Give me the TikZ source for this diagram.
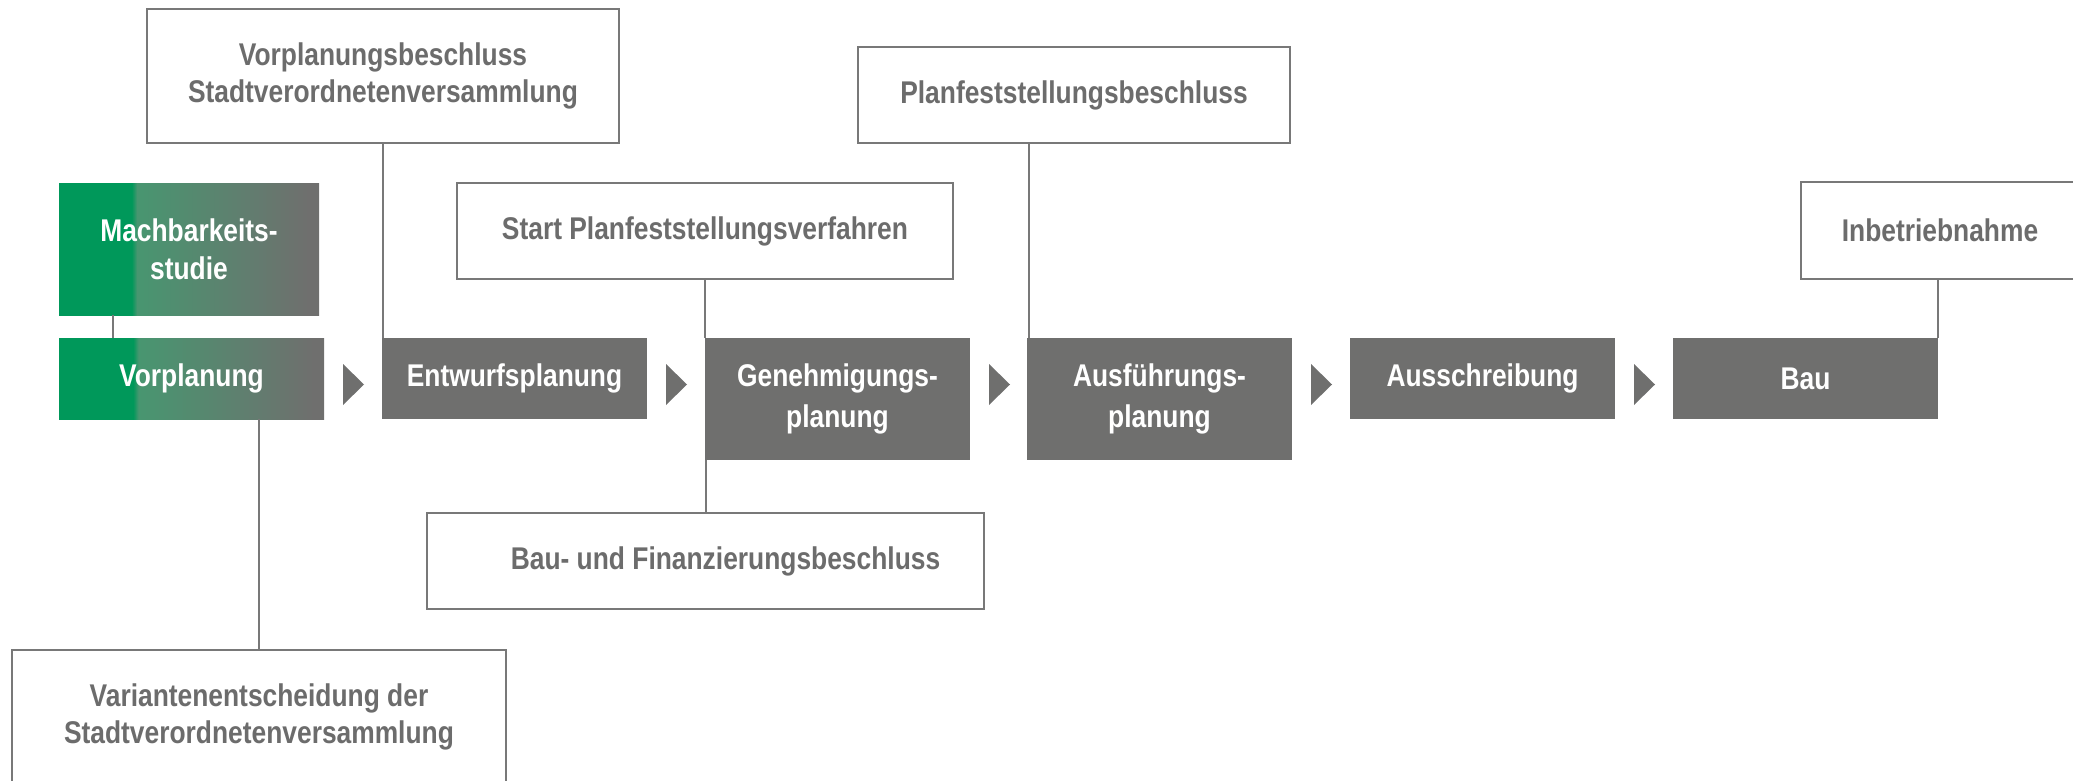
\documentclass[tikz,border=0pt]{standalone}
\usepackage{fontspec}
\setmainfont{Liberation Sans}[FakeStretch=0.84]
\usetikzlibrary{calc}
\definecolor{vgreen}{RGB}{0,152,90}
\definecolor{vgray}{RGB}{111,111,110}
\definecolor{lgray}{RGB}{120,120,120}
\definecolor{tgray}{RGB}{108,108,108}
\definecolor{vmix}{RGB}{72,150,112}
\pgfdeclarehorizontalshading{grgr}{100bp}{color(0bp)=(vgreen); color(39bp)=(vgreen); color(40bp)=(vmix); color(73bp)=(vgray); color(100bp)=(vgray)}
\tikzset{
  base/.style={rectangle, inner sep=0pt, outer sep=0pt, anchor=north west, align=center},
  fillbox/.style={base, fill=vgray, text=white, font=\fontsize{15.7pt}{20.5pt}\selectfont\bfseries},
  gradbox/.style={base, shading=grgr, text=white, font=\fontsize{15.7pt}{19pt}\selectfont\bfseries},
  linebox/.style={base, draw=lgray, line width=1.3pt, fill=white, text=tgray, font=\fontsize{15.7pt}{18.5pt}\selectfont\bfseries},
  conn/.style={draw=lgray, line width=1pt},
  steparrow/.style={fill=vgray}
}
\begin{document}
\begin{tikzpicture}[x=0.5pt,y=-0.5pt]
\useasboundingbox (0,0) rectangle (2073,781);
\clip (0,0) rectangle (2073,781);
% process row
\node[gradbox, minimum width=130pt, minimum height=65.5pt] (mb) at (59,184) {Machbarkeits-\\studie};
\node[gradbox, minimum width=132.5pt, minimum height=40.5pt] (vp) at (59,338) {Vorplanung};
\node[fillbox, minimum width=132.5pt, minimum height=40.5pt] (ep) at (382,338) {Entwurfsplanung};
\node[fillbox, minimum width=132.5pt, minimum height=61pt] (gp) at (705,338) {Genehmigungs-\\planung};
\node[fillbox, minimum width=132.5pt, minimum height=61pt] (ap) at (1027,338) {Ausführungs-\\planung};
\node[fillbox, minimum width=132.5pt, minimum height=40.5pt] (as) at (1350,338) {Ausschreibung};
\node[fillbox, minimum width=132.5pt, minimum height=40.5pt] (bau) at (1673,338) {Bau};
% step arrows
\foreach \x in {343,666,989,1311,1634}
  \fill[steparrow] (\x,364) -- (\x+21,384.5) -- (\x,405) -- cycle;
% milestone boxes
\node[linebox, minimum width=236pt, minimum height=67pt] (vpb) at (147,9) {Vorplanungsbeschluss\\Stadtverordnetenversammlung};
\node[linebox, minimum width=216pt, minimum height=48pt] (pfb) at (858,47) {Planfeststellungsbeschluss};
\node[linebox, minimum width=248pt, minimum height=48pt] (spv) at (457,183) {Start Planfeststellungsverfahren};
\node[linebox, minimum width=139pt, minimum height=48.5pt] (inb) at (1801,182) {Inbetriebnahme};
\node[linebox, minimum width=278.5pt, minimum height=48pt] (bfb) at (427,513) {\hspace*{20pt}Bau- und Finanzierungsbeschluss};
\node[linebox, minimum width=247pt, minimum height=67pt] (var) at (12,650) {Variantenentscheidung der\\Stadtverordnetenversammlung};
% connectors
\coordinate (c1) at (113,0);
\coordinate (c2) at (259,0);
\coordinate (c3) at (1029,0);
\draw[conn] (mb.south -| c1) -- (vp.north -| c1);
\draw[conn] (vp.south -| c2) -- (var.north -| c2);
\draw[conn] (vpb.south) -- (vpb.south |- ep.north);
\draw[conn] (spv.south) -- (spv.south |- gp.north);
\draw[conn] (bfb.north) -- (bfb.north |- gp.south);
\draw[conn] (pfb.south -| c3) -- (ap.north -| c3);
\draw[conn] (bau.north east) -- (bau.north east |- inb.south);
\end{tikzpicture}
\end{document}
